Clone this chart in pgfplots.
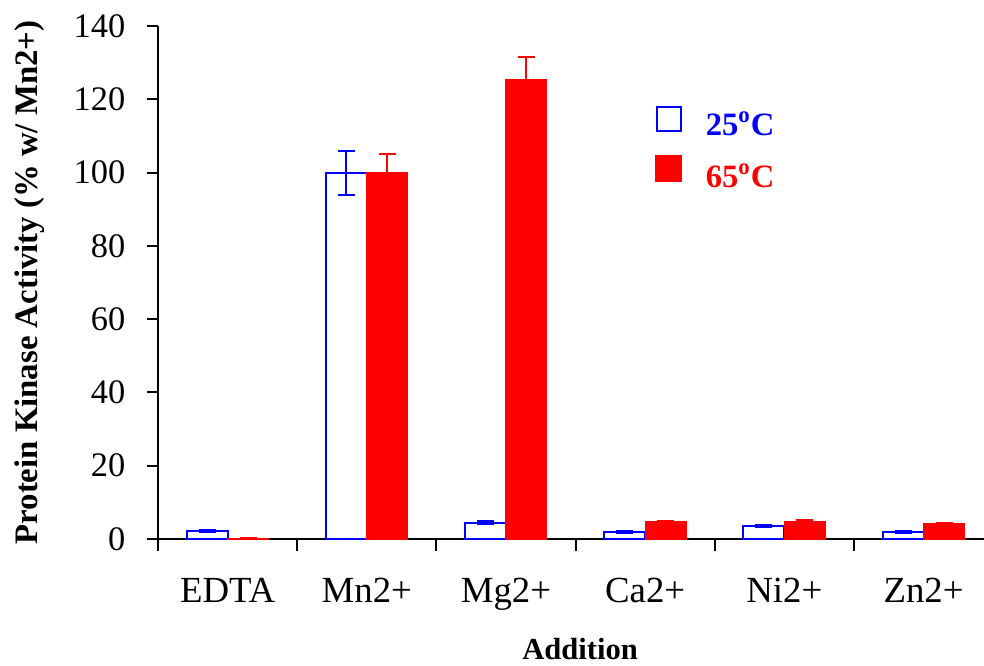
\documentclass[border=0pt]{standalone}
\usepackage{pgfplots}
\pgfplotsset{compat=1.18}
\usepackage{fontspec}
\setmainfont{Liberation Serif}
\definecolor{myblue}{RGB}{0,0,255}
\definecolor{myred}{RGB}{255,0,0}
\begin{document}
\begin{tikzpicture}
\begin{axis}[
  scale only axis,
  width=413pt, height=256.5pt,
  xmin=-0.5, xmax=5.434,
  ymin=0, ymax=140,
  axis x line*=bottom, axis y line*=left,
  axis line style={line width=1pt,-},
  tick align=outside,
  ytick={0,20,...,140},
  ytick style={line width=1pt, black},
  major tick length=5.5pt,
  xtick={0,...,5},
  xticklabels={EDTA,Mn2+,Mg2+,Ca2+,Ni2+,Zn2+},
  xtick style={draw=none},
  extra x ticks={-0.5,0.5,1.5,2.5,3.5,4.5},
  extra x tick labels={},
  extra x tick style={xtick style={draw=black, line width=1pt}, major tick length=6pt},
  tick label style={font=\fontsize{17.2}{19}\selectfont},
  xticklabel style={anchor=north, yshift=-10.5pt, font=\fontsize{18.4}{20}\selectfont},
  yticklabel style={xshift=-7.3pt},
  /pgf/number format/assume math mode=true,
  ylabel={Protein Kinase Activity (\% w/ Mn2+)},
  xlabel={Addition},
  ylabel style={at={(axis description cs:-0.155,0.5)}, anchor=center, font=\fontsize{16.4}{18}\selectfont\bfseries},
  xlabel style={at={(axis description cs:0.511,-0.2339)}, anchor=base, inner sep=1pt, font=\fontsize{15.3}{17}\selectfont\bfseries},
  ybar=0pt, bar width=20.5pt,
  legend style={draw=none, fill=none, at={(axis cs:3.07,118.2)}, anchor=north west,
    font=\fontsize{16.3}{18}\selectfont\bfseries, row sep=8.5pt, inner sep=0pt, nodes={inner sep=0pt}},
  legend cell align=left,
]
\addplot[draw=myblue, fill=white, line width=1pt,
  error bars/.cd, y dir=both, y explicit,
  error bar style={line width=1pt, myblue},
  error mark options={rotate=90, mark size=4.25pt, line width=1pt, myblue},
  /pgfplots/legend image code/.code={\path[draw=none, fill=none] (0pt,0pt) -- (25pt,0pt); \draw[draw=myblue, fill=white, line width=1pt] (0.5pt,-3pt) rectangle (12.5pt,9pt);}]
  coordinates {(0,2.2) +- (0,0.3) (1,100) +- (0,6) (2,4.5) +- (0,0.3) (3,2.0) +- (0,0.25) (4,3.5) +- (0,0.25) (5,2.0) +- (0,0.25)};
\addlegendentry{\textcolor{myblue}{25\textsuperscript{o}C}}
\addplot[draw=myred, fill=myred, line width=0.5pt,
  error bars/.cd, y dir=both, y explicit,
  error bar style={line width=1pt, myred},
  error mark options={rotate=90, mark size=4.25pt, line width=1pt, myred},
  /pgfplots/legend image code/.code={\path[draw=none, fill=none] (0pt,0pt) -- (25pt,0pt); \draw[draw=myred, fill=myred] (0pt,-2.5pt) rectangle (13pt,10.5pt);}]
  coordinates {(0,0.2) +- (0,0.1) (1,100) +- (0,5) (2,125.5) +- (0,6) (3,4.7) +- (0,0.2) (4,4.9) +- (0,0.2) (5,4.3) +- (0,0.2)};
\addlegendentry{\textcolor{myred}{65\textsuperscript{o}C}}
\end{axis}
\pgfresetboundingbox
\path[use as bounding box] ([shift={(-79pt,-63pt)}]current axis.south west) rectangle ([shift={(0pt,13pt)}]current axis.north east);
\end{tikzpicture}
\end{document}
